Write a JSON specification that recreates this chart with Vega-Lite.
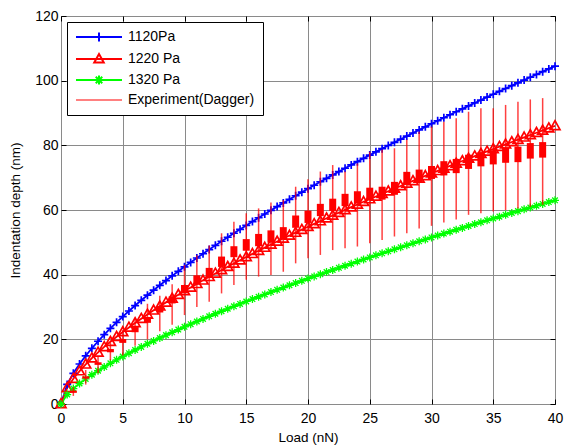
{
"$schema": "https://vega.github.io/schema/vega-lite/v6.json",
"width": 494, "height": 388,
"autosize": {"type": "none"},
"padding": {"left": 61, "top": 16, "right": 10, "bottom": 43},
"background": "#ffffff",
"config": {
  "font": "Liberation Sans",
  "view": {"stroke": "#000000", "strokeWidth": 1},
  "axis": {"labelFont": "Liberation Sans", "labelFontSize": 14, "labelColor": "#000000", "labelFlush": false, "titleFont": "Liberation Sans", "titleFontSize": 13.5, "titleFontWeight": "normal", "titleColor": "#000000", "tickColor": "#000000", "domain": false, "gridColor": "#8a8a8a", "gridOpacity": 1, "gridWidth": 1},
  "legend": {"orient": "none", "legendX": 6, "legendY": 6, "direction": "vertical", "fillColor": "#ffffff", "strokeColor": "#000000", "padding": 8, "cornerRadius": 0, "symbolSize": 100, "symbolStrokeWidth": 2, "symbolOpacity": 1, "symbolOffset": 17, "labelOffset": 22, "labelFontSize": 14, "labelFont": "Liberation Sans", "labelColor": "#000000", "rowPadding": 4, "title": null}
},
"datasets": {
"model": [
{"x":0,"y":0,"s":"1120Pa"},{"x":0.5,"y":6.05,"s":"1120Pa"},{"x":1,"y":9.5,"s":"1120Pa"},{"x":1.5,"y":12.37,"s":"1120Pa"},{"x":2,"y":14.91,"s":"1120Pa"},{"x":2.5,"y":17.23,"s":"1120Pa"},{"x":3,"y":19.4,"s":"1120Pa"},{"x":3.5,"y":21.45,"s":"1120Pa"},{"x":4,"y":23.39,"s":"1120Pa"},{"x":4.5,"y":25.25,"s":"1120Pa"},{"x":5,"y":27.04,"s":"1120Pa"},{"x":5.5,"y":28.77,"s":"1120Pa"},{"x":6,"y":30.45,"s":"1120Pa"},{"x":6.5,"y":32.07,"s":"1120Pa"},{"x":7,"y":33.65,"s":"1120Pa"},{"x":7.5,"y":35.2,"s":"1120Pa"},{"x":8,"y":36.71,"s":"1120Pa"},{"x":8.5,"y":38.18,"s":"1120Pa"},{"x":9,"y":39.63,"s":"1120Pa"},{"x":9.5,"y":41.04,"s":"1120Pa"},{"x":10,"y":42.43,"s":"1120Pa"},{"x":10.5,"y":43.8,"s":"1120Pa"},{"x":11,"y":45.15,"s":"1120Pa"},{"x":11.5,"y":46.47,"s":"1120Pa"},{"x":12,"y":47.77,"s":"1120Pa"},{"x":12.5,"y":49.06,"s":"1120Pa"},{"x":13,"y":50.33,"s":"1120Pa"},{"x":13.5,"y":51.57,"s":"1120Pa"},{"x":14,"y":52.81,"s":"1120Pa"},{"x":14.5,"y":54.03,"s":"1120Pa"},{"x":15,"y":55.23,"s":"1120Pa"},{"x":15.5,"y":56.42,"s":"1120Pa"},{"x":16,"y":57.6,"s":"1120Pa"},{"x":16.5,"y":58.76,"s":"1120Pa"},{"x":17,"y":59.91,"s":"1120Pa"},{"x":17.5,"y":61.05,"s":"1120Pa"},{"x":18,"y":62.18,"s":"1120Pa"},{"x":18.5,"y":63.3,"s":"1120Pa"},{"x":19,"y":64.4,"s":"1120Pa"},{"x":19.5,"y":65.5,"s":"1120Pa"},{"x":20,"y":66.59,"s":"1120Pa"},{"x":20.5,"y":67.66,"s":"1120Pa"},{"x":21,"y":68.73,"s":"1120Pa"},{"x":21.5,"y":69.79,"s":"1120Pa"},{"x":22,"y":70.84,"s":"1120Pa"},{"x":22.5,"y":71.88,"s":"1120Pa"},{"x":23,"y":72.92,"s":"1120Pa"},{"x":23.5,"y":73.95,"s":"1120Pa"},{"x":24,"y":74.96,"s":"1120Pa"},{"x":24.5,"y":75.98,"s":"1120Pa"},{"x":25,"y":76.98,"s":"1120Pa"},{"x":25.5,"y":77.98,"s":"1120Pa"},{"x":26,"y":78.97,"s":"1120Pa"},{"x":26.5,"y":79.95,"s":"1120Pa"},{"x":27,"y":80.93,"s":"1120Pa"},{"x":27.5,"y":81.9,"s":"1120Pa"},{"x":28,"y":82.86,"s":"1120Pa"},{"x":28.5,"y":83.82,"s":"1120Pa"},{"x":29,"y":84.78,"s":"1120Pa"},{"x":29.5,"y":85.72,"s":"1120Pa"},{"x":30,"y":86.67,"s":"1120Pa"},{"x":30.5,"y":87.6,"s":"1120Pa"},{"x":31,"y":88.53,"s":"1120Pa"},{"x":31.5,"y":89.46,"s":"1120Pa"},{"x":32,"y":90.38,"s":"1120Pa"},{"x":32.5,"y":91.29,"s":"1120Pa"},{"x":33,"y":92.2,"s":"1120Pa"},{"x":33.5,"y":93.11,"s":"1120Pa"},{"x":34,"y":94.01,"s":"1120Pa"},{"x":34.5,"y":94.91,"s":"1120Pa"},{"x":35,"y":95.8,"s":"1120Pa"},{"x":35.5,"y":96.69,"s":"1120Pa"},{"x":36,"y":97.57,"s":"1120Pa"},{"x":36.5,"y":98.45,"s":"1120Pa"},{"x":37,"y":99.32,"s":"1120Pa"},{"x":37.5,"y":100.19,"s":"1120Pa"},{"x":38,"y":101.06,"s":"1120Pa"},{"x":38.5,"y":101.92,"s":"1120Pa"},{"x":39,"y":102.78,"s":"1120Pa"},{"x":39.5,"y":103.63,"s":"1120Pa"},{"x":40,"y":104.48,"s":"1120Pa"},
{"x":0,"y":0,"s":"1220 Pa"},{"x":0.5,"y":4.98,"s":"1220 Pa"},{"x":1,"y":7.82,"s":"1220 Pa"},{"x":1.5,"y":10.18,"s":"1220 Pa"},{"x":2,"y":12.27,"s":"1220 Pa"},{"x":2.5,"y":14.19,"s":"1220 Pa"},{"x":3,"y":15.97,"s":"1220 Pa"},{"x":3.5,"y":17.65,"s":"1220 Pa"},{"x":4,"y":19.26,"s":"1220 Pa"},{"x":4.5,"y":20.79,"s":"1220 Pa"},{"x":5,"y":22.26,"s":"1220 Pa"},{"x":5.5,"y":23.68,"s":"1220 Pa"},{"x":6,"y":25.06,"s":"1220 Pa"},{"x":6.5,"y":26.4,"s":"1220 Pa"},{"x":7,"y":27.7,"s":"1220 Pa"},{"x":7.5,"y":28.97,"s":"1220 Pa"},{"x":8,"y":30.21,"s":"1220 Pa"},{"x":8.5,"y":31.43,"s":"1220 Pa"},{"x":9,"y":32.62,"s":"1220 Pa"},{"x":9.5,"y":33.78,"s":"1220 Pa"},{"x":10,"y":34.93,"s":"1220 Pa"},{"x":10.5,"y":36.06,"s":"1220 Pa"},{"x":11,"y":37.16,"s":"1220 Pa"},{"x":11.5,"y":38.25,"s":"1220 Pa"},{"x":12,"y":39.33,"s":"1220 Pa"},{"x":12.5,"y":40.38,"s":"1220 Pa"},{"x":13,"y":41.43,"s":"1220 Pa"},{"x":13.5,"y":42.45,"s":"1220 Pa"},{"x":14,"y":43.47,"s":"1220 Pa"},{"x":14.5,"y":44.47,"s":"1220 Pa"},{"x":15,"y":45.46,"s":"1220 Pa"},{"x":15.5,"y":46.44,"s":"1220 Pa"},{"x":16,"y":47.41,"s":"1220 Pa"},{"x":16.5,"y":48.37,"s":"1220 Pa"},{"x":17,"y":49.32,"s":"1220 Pa"},{"x":17.5,"y":50.26,"s":"1220 Pa"},{"x":18,"y":51.18,"s":"1220 Pa"},{"x":18.5,"y":52.1,"s":"1220 Pa"},{"x":19,"y":53.01,"s":"1220 Pa"},{"x":19.5,"y":53.92,"s":"1220 Pa"},{"x":20,"y":54.81,"s":"1220 Pa"},{"x":20.5,"y":55.7,"s":"1220 Pa"},{"x":21,"y":56.58,"s":"1220 Pa"},{"x":21.5,"y":57.45,"s":"1220 Pa"},{"x":22,"y":58.31,"s":"1220 Pa"},{"x":22.5,"y":59.17,"s":"1220 Pa"},{"x":23,"y":60.02,"s":"1220 Pa"},{"x":23.5,"y":60.87,"s":"1220 Pa"},{"x":24,"y":61.71,"s":"1220 Pa"},{"x":24.5,"y":62.54,"s":"1220 Pa"},{"x":25,"y":63.37,"s":"1220 Pa"},{"x":25.5,"y":64.19,"s":"1220 Pa"},{"x":26,"y":65.0,"s":"1220 Pa"},{"x":26.5,"y":65.81,"s":"1220 Pa"},{"x":27,"y":66.62,"s":"1220 Pa"},{"x":27.5,"y":67.42,"s":"1220 Pa"},{"x":28,"y":68.21,"s":"1220 Pa"},{"x":28.5,"y":69.0,"s":"1220 Pa"},{"x":29,"y":69.78,"s":"1220 Pa"},{"x":29.5,"y":70.56,"s":"1220 Pa"},{"x":30,"y":71.34,"s":"1220 Pa"},{"x":30.5,"y":72.11,"s":"1220 Pa"},{"x":31,"y":72.88,"s":"1220 Pa"},{"x":31.5,"y":73.64,"s":"1220 Pa"},{"x":32,"y":74.4,"s":"1220 Pa"},{"x":32.5,"y":75.15,"s":"1220 Pa"},{"x":33,"y":75.9,"s":"1220 Pa"},{"x":33.5,"y":76.64,"s":"1220 Pa"},{"x":34,"y":77.39,"s":"1220 Pa"},{"x":34.5,"y":78.12,"s":"1220 Pa"},{"x":35,"y":78.86,"s":"1220 Pa"},{"x":35.5,"y":79.59,"s":"1220 Pa"},{"x":36,"y":80.31,"s":"1220 Pa"},{"x":36.5,"y":81.04,"s":"1220 Pa"},{"x":37,"y":81.76,"s":"1220 Pa"},{"x":37.5,"y":82.47,"s":"1220 Pa"},{"x":38,"y":83.19,"s":"1220 Pa"},{"x":38.5,"y":83.9,"s":"1220 Pa"},{"x":39,"y":84.6,"s":"1220 Pa"},{"x":39.5,"y":85.31,"s":"1220 Pa"},{"x":40,"y":86.01,"s":"1220 Pa"},
{"x":0,"y":0,"s":"1320 Pa"},{"x":0.5,"y":2.93,"s":"1320 Pa"},{"x":1,"y":4.76,"s":"1320 Pa"},{"x":1.5,"y":6.33,"s":"1320 Pa"},{"x":2,"y":7.74,"s":"1320 Pa"},{"x":2.5,"y":9.05,"s":"1320 Pa"},{"x":3,"y":10.28,"s":"1320 Pa"},{"x":3.5,"y":11.45,"s":"1320 Pa"},{"x":4,"y":12.57,"s":"1320 Pa"},{"x":4.5,"y":13.65,"s":"1320 Pa"},{"x":5,"y":14.69,"s":"1320 Pa"},{"x":5.5,"y":15.71,"s":"1320 Pa"},{"x":6,"y":16.7,"s":"1320 Pa"},{"x":6.5,"y":17.66,"s":"1320 Pa"},{"x":7,"y":18.6,"s":"1320 Pa"},{"x":7.5,"y":19.52,"s":"1320 Pa"},{"x":8,"y":20.42,"s":"1320 Pa"},{"x":8.5,"y":21.3,"s":"1320 Pa"},{"x":9,"y":22.17,"s":"1320 Pa"},{"x":9.5,"y":23.03,"s":"1320 Pa"},{"x":10,"y":23.87,"s":"1320 Pa"},{"x":10.5,"y":24.7,"s":"1320 Pa"},{"x":11,"y":25.52,"s":"1320 Pa"},{"x":11.5,"y":26.32,"s":"1320 Pa"},{"x":12,"y":27.12,"s":"1320 Pa"},{"x":12.5,"y":27.91,"s":"1320 Pa"},{"x":13,"y":28.68,"s":"1320 Pa"},{"x":13.5,"y":29.45,"s":"1320 Pa"},{"x":14,"y":30.21,"s":"1320 Pa"},{"x":14.5,"y":30.96,"s":"1320 Pa"},{"x":15,"y":31.71,"s":"1320 Pa"},{"x":15.5,"y":32.44,"s":"1320 Pa"},{"x":16,"y":33.17,"s":"1320 Pa"},{"x":16.5,"y":33.89,"s":"1320 Pa"},{"x":17,"y":34.61,"s":"1320 Pa"},{"x":17.5,"y":35.32,"s":"1320 Pa"},{"x":18,"y":36.02,"s":"1320 Pa"},{"x":18.5,"y":36.72,"s":"1320 Pa"},{"x":19,"y":37.41,"s":"1320 Pa"},{"x":19.5,"y":38.1,"s":"1320 Pa"},{"x":20,"y":38.78,"s":"1320 Pa"},{"x":20.5,"y":39.45,"s":"1320 Pa"},{"x":21,"y":40.13,"s":"1320 Pa"},{"x":21.5,"y":40.79,"s":"1320 Pa"},{"x":22,"y":41.45,"s":"1320 Pa"},{"x":22.5,"y":42.11,"s":"1320 Pa"},{"x":23,"y":42.76,"s":"1320 Pa"},{"x":23.5,"y":43.41,"s":"1320 Pa"},{"x":24,"y":44.06,"s":"1320 Pa"},{"x":24.5,"y":44.7,"s":"1320 Pa"},{"x":25,"y":45.33,"s":"1320 Pa"},{"x":25.5,"y":45.97,"s":"1320 Pa"},{"x":26,"y":46.6,"s":"1320 Pa"},{"x":26.5,"y":47.22,"s":"1320 Pa"},{"x":27,"y":47.84,"s":"1320 Pa"},{"x":27.5,"y":48.46,"s":"1320 Pa"},{"x":28,"y":49.08,"s":"1320 Pa"},{"x":28.5,"y":49.69,"s":"1320 Pa"},{"x":29,"y":50.3,"s":"1320 Pa"},{"x":29.5,"y":50.9,"s":"1320 Pa"},{"x":30,"y":51.51,"s":"1320 Pa"},{"x":30.5,"y":52.11,"s":"1320 Pa"},{"x":31,"y":52.7,"s":"1320 Pa"},{"x":31.5,"y":53.3,"s":"1320 Pa"},{"x":32,"y":53.89,"s":"1320 Pa"},{"x":32.5,"y":54.47,"s":"1320 Pa"},{"x":33,"y":55.06,"s":"1320 Pa"},{"x":33.5,"y":55.64,"s":"1320 Pa"},{"x":34,"y":56.22,"s":"1320 Pa"},{"x":34.5,"y":56.8,"s":"1320 Pa"},{"x":35,"y":57.37,"s":"1320 Pa"},{"x":35.5,"y":57.95,"s":"1320 Pa"},{"x":36,"y":58.52,"s":"1320 Pa"},{"x":36.5,"y":59.08,"s":"1320 Pa"},{"x":37,"y":59.65,"s":"1320 Pa"},{"x":37.5,"y":60.21,"s":"1320 Pa"},{"x":38,"y":60.77,"s":"1320 Pa"},{"x":38.5,"y":61.33,"s":"1320 Pa"},{"x":39,"y":61.89,"s":"1320 Pa"},{"x":39.5,"y":62.44,"s":"1320 Pa"},{"x":40,"y":63.0,"s":"1320 Pa"}
],
"exp": [
{"x":1,"m":3.8,"lo":2.5,"hi":5.2,"bl":3.45,"bh":4.15,"s":"Experiment(Dagger)"},
{"x":2,"m":8.2,"lo":6.0,"hi":10.5,"bl":7.85,"bh":8.55,"s":"Experiment(Dagger)"},
{"x":3,"m":12.5,"lo":9.5,"hi":14.5,"bl":12.1,"bh":12.9,"s":"Experiment(Dagger)"},
{"x":4,"m":16.5,"lo":13.5,"hi":19.0,"bl":16.0,"bh":17.0,"s":"Experiment(Dagger)"},
{"x":5,"m":19.5,"lo":15.0,"hi":23.0,"bl":18.9,"bh":20.1,"s":"Experiment(Dagger)"},
{"x":6,"m":23.0,"lo":18.0,"hi":26.5,"bl":22.2,"bh":23.8,"s":"Experiment(Dagger)"},
{"x":7,"m":26.0,"lo":20.0,"hi":31.0,"bl":25.1,"bh":26.9,"s":"Experiment(Dagger)"},
{"x":8,"m":29.3,"lo":22.5,"hi":33.5,"bl":28.3,"bh":30.3,"s":"Experiment(Dagger)"},
{"x":9,"m":32.2,"lo":24.5,"hi":37.0,"bl":31.1,"bh":33.3,"s":"Experiment(Dagger)"},
{"x":10,"m":35.5,"lo":27.5,"hi":43.0,"bl":34.2,"bh":36.8,"s":"Experiment(Dagger)"},
{"x":11,"m":38.4,"lo":30.0,"hi":46.0,"bl":37.0,"bh":39.8,"s":"Experiment(Dagger)"},
{"x":12,"m":40.6,"lo":31.6,"hi":49.0,"bl":39.1,"bh":42.1,"s":"Experiment(Dagger)"},
{"x":13,"m":44.0,"lo":34.2,"hi":52.8,"bl":42.4,"bh":45.6,"s":"Experiment(Dagger)"},
{"x":14,"m":47.1,"lo":36.8,"hi":56.4,"bl":45.4,"bh":48.8,"s":"Experiment(Dagger)"},
{"x":15,"m":49.2,"lo":38.4,"hi":59.0,"bl":47.4,"bh":51.0,"s":"Experiment(Dagger)"},
{"x":16,"m":50.7,"lo":39.4,"hi":60.5,"bl":48.8,"bh":52.6,"s":"Experiment(Dagger)"},
{"x":17,"m":51.8,"lo":39.9,"hi":62.3,"bl":49.9,"bh":53.7,"s":"Experiment(Dagger)"},
{"x":18,"m":52.8,"lo":40.9,"hi":63.1,"bl":50.9,"bh":54.7,"s":"Experiment(Dagger)"},
{"x":19,"m":56.4,"lo":43.5,"hi":67.2,"bl":54.5,"bh":58.3,"s":"Experiment(Dagger)"},
{"x":20,"m":57.9,"lo":45.1,"hi":69.5,"bl":56.0,"bh":59.8,"s":"Experiment(Dagger)"},
{"x":21,"m":60.0,"lo":46.1,"hi":71.9,"bl":58.1,"bh":61.9,"s":"Experiment(Dagger)"},
{"x":22,"m":61.6,"lo":47.6,"hi":73.9,"bl":59.7,"bh":63.5,"s":"Experiment(Dagger)"},
{"x":23,"m":63.1,"lo":48.2,"hi":71.9,"bl":61.2,"bh":65.0,"s":"Experiment(Dagger)"},
{"x":24,"m":63.9,"lo":48.7,"hi":74.4,"bl":62.0,"bh":65.8,"s":"Experiment(Dagger)"},
{"x":25,"m":65.0,"lo":49.7,"hi":78.0,"bl":63.1,"bh":66.9,"s":"Experiment(Dagger)"},
{"x":26,"m":65.2,"lo":50.7,"hi":78.6,"bl":63.2,"bh":67.2,"s":"Experiment(Dagger)"},
{"x":27,"m":66.7,"lo":51.8,"hi":79.1,"bl":64.7,"bh":68.7,"s":"Experiment(Dagger)"},
{"x":28,"m":69.8,"lo":52.8,"hi":81.7,"bl":67.8,"bh":71.8,"s":"Experiment(Dagger)"},
{"x":29,"m":70.5,"lo":54.3,"hi":84.2,"bl":68.5,"bh":72.5,"s":"Experiment(Dagger)"},
{"x":30,"m":71.6,"lo":55.1,"hi":85.8,"bl":69.6,"bh":73.6,"s":"Experiment(Dagger)"},
{"x":31,"m":72.9,"lo":56.1,"hi":87.3,"bl":70.7,"bh":75.1,"s":"Experiment(Dagger)"},
{"x":32,"m":73.6,"lo":57.1,"hi":88.4,"bl":71.4,"bh":75.8,"s":"Experiment(Dagger)"},
{"x":33,"m":74.9,"lo":58.5,"hi":90.4,"bl":72.7,"bh":77.1,"s":"Experiment(Dagger)"},
{"x":34,"m":75.7,"lo":59.0,"hi":91.5,"bl":73.5,"bh":77.9,"s":"Experiment(Dagger)"},
{"x":35,"m":76.3,"lo":59.5,"hi":91.5,"bl":74.1,"bh":78.5,"s":"Experiment(Dagger)"},
{"x":36,"m":77.0,"lo":60.0,"hi":92.5,"bl":74.6,"bh":79.4,"s":"Experiment(Dagger)"},
{"x":37,"m":77.2,"lo":60.5,"hi":93.5,"bl":74.8,"bh":79.6,"s":"Experiment(Dagger)"},
{"x":38,"m":78.3,"lo":61.0,"hi":94.2,"bl":75.9,"bh":80.7,"s":"Experiment(Dagger)"},
{"x":39,"m":78.6,"lo":61.6,"hi":94.6,"bl":76.2,"bh":81.0,"s":"Experiment(Dagger)"}
]
},
"resolve": {"axis": {"x": "independent", "y": "independent"}},
"layer": [
{
  "data": {"name": "model"},
  "mark": {"type": "point", "filled": false, "opacity": 0},
  "encoding": {
    "x": {"field": "x", "type": "quantitative", "scale": {"domain": [0, 40], "nice": false, "zero": false, "padding": 0}, "axis": {"orient": "bottom", "grid": true, "values": [0,5,10,15,20,25,30,35,40], "tickSize": -5, "labelPadding": 12, "title": "Load (nN)", "titlePadding": 5}},
    "y": {"field": "y", "type": "quantitative", "scale": {"domain": [0, 120], "nice": false, "zero": false, "padding": 0}, "axis": {"orient": "left", "grid": true, "values": [0,20,40,60,80,100,120], "tickSize": -5, "labelPadding": 8, "title": "Indentation depth (nm)", "titlePadding": 12}},
    "color": {"field": "s", "type": "nominal", "scale": {"domain": ["1120Pa", "1220 Pa", "1320 Pa", "Experiment(Dagger)"], "range": ["#0000ff", "#ff0000", "#00ff00", "#ff8080"]}, "legend": {"title": null}},
    "shape": {"field": "s", "type": "nominal", "scale": {"domain": ["1120Pa", "1220 Pa", "1320 Pa", "Experiment(Dagger)"], "range": ["M-4.6,0L4.6,0M0,-0.9L0,0.9", "M-4.6,0L4.6,0M0,-1L0.95,0.7L-0.95,0.7Z", "M-4.6,0L4.6,0M0,-0.9L0,0.9M-0.65,-0.65L0.65,0.65M-0.65,0.65L0.65,-0.65", "M-4.6,0L4.6,0"]}, "legend": {"title": null}}
  }
},
{
  "data": {"name": "model"},
  "mark": {"type": "line", "strokeWidth": 1.8},
  "encoding": {
    "x": {"field": "x", "type": "quantitative", "scale": {"domain": [0, 40], "nice": false, "zero": false, "padding": 0}, "axis": {"orient": "top", "labels": false, "grid": false, "title": null, "tickSize": -5, "values": [0,5,10,15,20,25,30,35,40]}},
    "y": {"field": "y", "type": "quantitative", "scale": {"domain": [0, 120], "nice": false, "zero": false, "padding": 0}, "axis": {"orient": "right", "labels": false, "grid": false, "title": null, "tickSize": -5, "values": [0,20,40,60,80,100,120]}},
    "color": {"field": "s", "type": "nominal"},
    "order": {"field": "x", "type": "quantitative"}
  }
},
{
  "data": {"name": "model"},
  "transform": [{"filter": "datum.s === '1120Pa'"}],
  "mark": {"type": "point", "filled": false, "strokeWidth": 1.7, "opacity": 1, "color": "#0000ff", "shape": "M-1,0L1,0M0,-1L0,1", "size": 64},
  "encoding": {
    "x": {"field": "x", "type": "quantitative", "axis": null},
    "y": {"field": "y", "type": "quantitative", "axis": null}
  }
},
{
  "data": {"name": "model"},
  "transform": [{"filter": "datum.s === '1220 Pa'"}],
  "mark": {"type": "point", "filled": false, "strokeWidth": 1.7, "opacity": 1, "color": "#ff0000", "shape": "M0,-1L0.95,0.7L-0.95,0.7Z", "size": 110},
  "encoding": {
    "x": {"field": "x", "type": "quantitative", "axis": null},
    "y": {"field": "y", "type": "quantitative", "axis": null}
  }
},
{
  "data": {"name": "model"},
  "transform": [{"filter": "datum.s === '1320 Pa'"}],
  "mark": {"type": "point", "filled": false, "strokeWidth": 1.3, "opacity": 1, "color": "#00ff00", "shape": "M-1,0L1,0M0,-1L0,1M-0.7,-0.7L0.7,0.7M-0.7,0.7L0.7,-0.7", "size": 64},
  "encoding": {
    "x": {"field": "x", "type": "quantitative", "axis": null},
    "y": {"field": "y", "type": "quantitative", "axis": null}
  }
},
{
  "data": {"name": "exp"},
  "mark": {"type": "rule", "strokeWidth": 1.5, "opacity": 0.75, "color": "#ff0000"},
  "encoding": {
    "x": {"field": "x", "type": "quantitative", "axis": null},
    "y": {"field": "lo", "type": "quantitative", "axis": null},
    "y2": {"field": "hi"}
  }
},
{
  "data": {"name": "exp"},
  "mark": {"type": "rule", "strokeWidth": 7, "color": "#ff0000", "strokeCap": "butt"},
  "encoding": {
    "x": {"field": "x", "type": "quantitative", "axis": null},
    "y": {"field": "bl", "type": "quantitative", "axis": null},
    "y2": {"field": "bh"}
  }
}
]
}
